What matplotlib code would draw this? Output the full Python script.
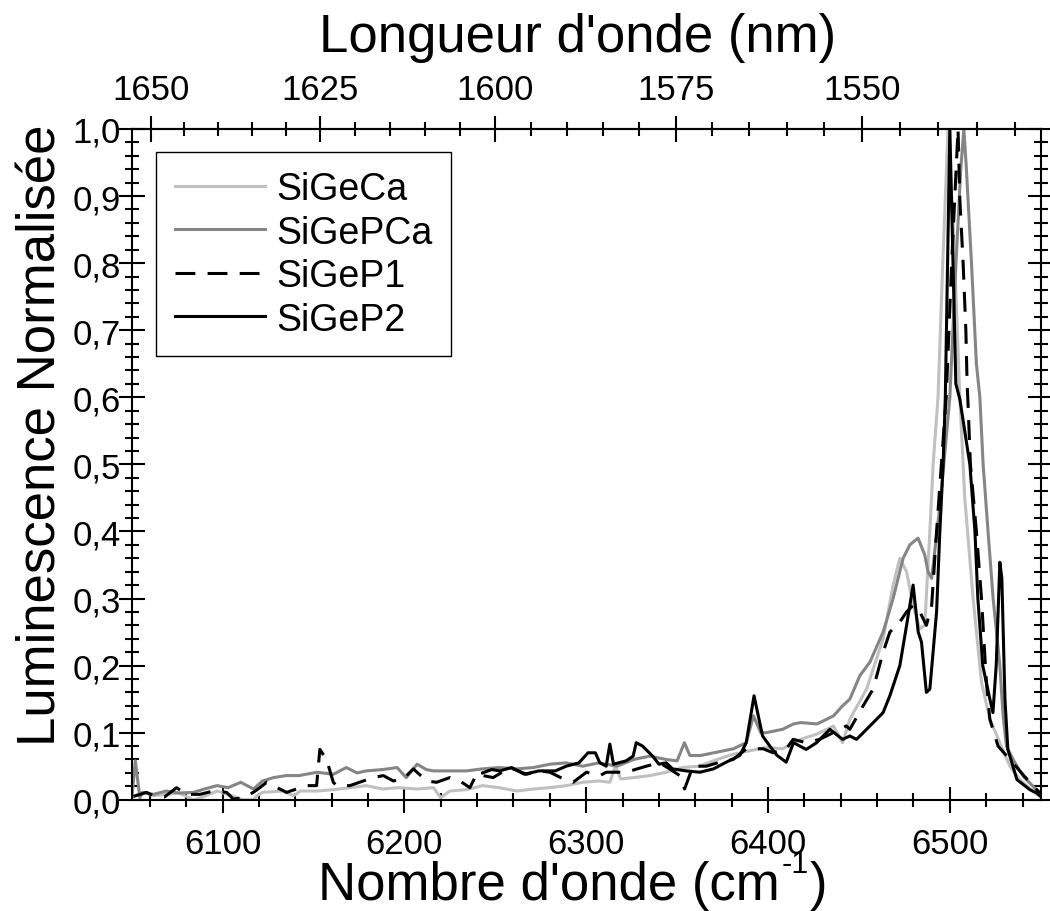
import numpy as np
import matplotlib
matplotlib.use('Agg')
import matplotlib.pyplot as plt
from matplotlib.ticker import MultipleLocator, FixedLocator, FuncFormatter

plt.rcParams['font.family'] = 'Liberation Sans'

# spectres normalises (nombre d'onde en cm-1, luminescence normalisee)
sigeca_k = [6050, 6051, 6056, 6062, 6069, 6076, 6084, 6088, 6097, 6105, 6111, 6117, 6119,
            6122, 6133, 6139, 6143, 6152, 6161, 6170, 6179, 6188, 6197, 6207, 6216, 6220,
            6225, 6234, 6243, 6252, 6262, 6271, 6280, 6289, 6298, 6307, 6313, 6316, 6319,
            6326, 6335, 6344, 6353, 6362, 6372, 6381, 6390, 6399, 6408, 6418, 6427, 6436,
            6441, 6445, 6454.2, 6463.3, 6468.8, 6472.5, 6476.2, 6479.8, 6483.5, 6486.2,
            6489, 6490.8, 6493.5, 6496.1, 6499, 6502, 6505.5, 6508.2, 6512.8, 6517.4,
            6522, 6527.5, 6533, 6538.5, 6546.7, 6550]
sigeca_v = [0.004, 0.005, 0.011, 0.006, 0.008, 0.010, 0.000, 0.003, 0.013, 0.006, 0.000,
            0.000, 0.006, 0.011, 0.013, 0.006, 0.013, 0.013, 0.015, 0.018, 0.021, 0.016,
            0.018, 0.016, 0.018, 0.003, 0.013, 0.015, 0.021, 0.018, 0.013, 0.016, 0.018,
            0.021, 0.026, 0.028, 0.026, 0.050, 0.031, 0.033, 0.036, 0.041, 0.048, 0.050,
            0.060, 0.068, 0.073, 0.078, 0.076, 0.090, 0.098, 0.110, 0.085, 0.120, 0.165,
            0.240, 0.320, 0.360, 0.340, 0.290, 0.255, 0.260, 0.400, 0.500, 0.600, 0.800,
            1.000, 0.850, 0.600, 0.450, 0.300, 0.175, 0.120, 0.085, 0.050, 0.030, 0.010,
            0.004]

sigepca_k = [6050, 6052, 6054.5, 6056, 6062, 6069, 6076, 6084, 6090, 6097, 6103, 6110,
             6117, 6122, 6128, 6135, 6142, 6152, 6161, 6168, 6174, 6179, 6188, 6196, 6201,
             6207, 6212, 6216, 6225, 6234, 6243, 6252, 6262, 6271, 6280, 6289, 6298, 6307,
             6317, 6326, 6335, 6344, 6350, 6354, 6357, 6363, 6372, 6381, 6388, 6392, 6396,
             6399, 6408, 6414, 6418, 6427, 6436, 6441, 6445, 6450.5, 6456, 6463.3, 6468.8,
             6474.3, 6478, 6482.5, 6486.2, 6488, 6490, 6495, 6500, 6503, 6506, 6507.7,
             6509, 6511.9, 6514.6, 6516.5, 6518.3, 6521, 6523.8, 6527.5, 6529.3, 6531.1,
             6534.8, 6540.3, 6547.6, 6550]
sigepca_v = [0.000, 0.058, 0.003, 0.011, 0.008, 0.013, 0.010, 0.011, 0.016, 0.021, 0.018,
             0.026, 0.016, 0.028, 0.033, 0.036, 0.036, 0.041, 0.038, 0.048, 0.040, 0.043,
             0.045, 0.048, 0.033, 0.053, 0.045, 0.043, 0.043, 0.043, 0.046, 0.048, 0.046,
             0.048, 0.053, 0.055, 0.050, 0.055, 0.050, 0.060, 0.065, 0.060, 0.058, 0.085,
             0.066, 0.066, 0.071, 0.076, 0.085, 0.125, 0.100, 0.100, 0.105, 0.113, 0.115,
             0.113, 0.125, 0.140, 0.150, 0.185, 0.205, 0.250, 0.300, 0.360, 0.380, 0.390,
             0.365, 0.340, 0.330, 0.450, 0.600, 0.780, 0.940, 1.000, 0.945, 0.800, 0.650,
             0.600, 0.500, 0.400, 0.300, 0.200, 0.125, 0.080, 0.060, 0.035, 0.015, 0.010]

sigep1_k = [6051, 6058.2, 6061.9, 6068, 6074.7, 6080.2, 6087.5, 6094.9, 6102.2, 6105.9,
            6111.4, 6116.9, 6120.5, 6124.2, 6131.5, 6135.2, 6146.2, 6151.7, 6153.5, 6157.2,
            6160.9, 6162.7, 6170, 6177.4, 6182.9, 6188.4, 6193.9, 6199.4, 6204.9, 6212.2,
            6217.7, 6225, 6230.5, 6236, 6239.7, 6248.8, 6258, 6267.1, 6274.5, 6280, 6286,
            6292.8, 6300.1, 6307.5, 6311, 6322, 6333, 6340.4, 6345.9, 6351.4, 6354.1,
            6358.7, 6366, 6373.4, 6380.8, 6388.1, 6397.3, 6402.8, 6410.1, 6413.8, 6421.1,
            6428.4, 6435.8, 6443.1, 6445, 6452.3, 6457.8, 6463.3, 6467, 6472.5, 6476.2,
            6479.8, 6483.5, 6487.1, 6490, 6492.7, 6497.2, 6498, 6501, 6504.5, 6505.5,
            6507.3, 6508.8, 6509.5, 6510, 6511.3, 6514.6, 6517.4, 6520.1, 6522, 6526.5,
            6533, 6541, 6549.5]
sigep1_v = [0.005, 0.011, 0.006, 0.004, 0.018, 0.008, 0.008, 0.013, 0.011, 0.001, 0.003,
            0.011, 0.018, 0.026, 0.016, 0.011, 0.021, 0.021, 0.075, 0.060, 0.026, 0.021,
            0.021, 0.028, 0.033, 0.036, 0.028, 0.031, 0.046, 0.028, 0.026, 0.033, 0.028,
            0.018, 0.038, 0.033, 0.048, 0.038, 0.043, 0.041, 0.033, 0.026, 0.041, 0.036,
            0.041, 0.041, 0.050, 0.055, 0.046, 0.036, 0.016, 0.050, 0.050, 0.056, 0.060,
            0.076, 0.076, 0.070, 0.076, 0.090, 0.085, 0.090, 0.100, 0.110, 0.105, 0.140,
            0.165, 0.220, 0.250, 0.265, 0.280, 0.290, 0.280, 0.260, 0.290, 0.400, 0.570,
            0.600, 0.800, 1.000, 0.895, 0.800, 0.700, 0.620, 0.590, 0.500, 0.400, 0.300,
            0.175, 0.120, 0.080, 0.060, 0.035, 0.010]

sigep2_k = [6243, 6248, 6252.5, 6259, 6266, 6274,
            6283, 6289, 6296, 6301, 6305, 6307.5, 6311, 6313, 6315, 6322, 6325.8, 6327.5,
            6331, 6336.5, 6340, 6344, 6347.5, 6355, 6362.5, 6370, 6377, 6384.5, 6388,
            6392.3, 6397, 6401, 6405, 6410, 6414, 6417.5, 6421, 6426.7, 6434, 6441, 6445,
            6448.7, 6454.2, 6459.7, 6463.3, 6467, 6472.5, 6476.2, 6479.8, 6482.6, 6484.4,
            6487.1, 6489, 6492.7, 6494.5, 6496.3, 6497.5, 6500, 6503.3, 6505.5, 6511,
            6513.8, 6515.4, 6518.1, 6522, 6523.7, 6525.5, 6527.5, 6528.6, 6530.3, 6531.9,
            6536.9, 6544, 6547.8, 6550]
sigep2_v = [0.040, 0.045,
            0.043, 0.048, 0.038, 0.043, 0.043, 0.050, 0.055, 0.070, 0.070, 0.055, 0.050,
            0.083, 0.053, 0.058, 0.065, 0.085, 0.080, 0.065, 0.053, 0.055, 0.046, 0.043,
            0.041, 0.046, 0.056, 0.066, 0.085, 0.155, 0.095, 0.080, 0.066, 0.056, 0.085,
            0.080, 0.075, 0.085, 0.105, 0.090, 0.095, 0.090, 0.105, 0.120, 0.130, 0.155,
            0.200, 0.260, 0.320, 0.250, 0.235, 0.160, 0.165, 0.280, 0.400, 0.500, 0.600,
            1.000, 0.620, 0.597, 0.500, 0.400, 0.300, 0.200, 0.150, 0.130, 0.200, 0.354,
            0.330, 0.150, 0.075, 0.030, 0.015, 0.010, 0.005]


def k_to_nm(k):
    k = np.asarray(k, dtype=float)
    with np.errstate(divide='ignore'):
        return 1e7 / k


def comma(v, pos):
    return f'{v:.1f}'.replace('.', ',')


W, H = 1050, 912
fig = plt.figure(figsize=(W / 100, H / 100), dpi=100)
ax = fig.add_axes([0.1254, 0.1220, 0.8658, 0.7355])

lw = 2.2
ax.plot(sigeca_k, sigeca_v, color='#c0c0c0', lw=lw, label='SiGeCa')
ax.plot(sigepca_k, sigepca_v, color='#858585', lw=lw, label='SiGePCa')
ax.plot(sigep1_k, sigep1_v, color='black', lw=lw, ls=(0, (6.5, 4)), label='SiGeP1')
ax.plot(sigep2_k, sigep2_v, color='black', lw=lw, label='SiGeP2')

ax.set_xlim(6050, 6550)
ax.set_ylim(0, 1.0)
ax.xaxis.set_major_locator(FixedLocator([6100, 6200, 6300, 6400, 6500]))
ax.xaxis.set_minor_locator(MultipleLocator(20))
ax.yaxis.set_major_locator(MultipleLocator(0.1))
ax.yaxis.set_minor_locator(MultipleLocator(0.02))
ax.yaxis.set_major_formatter(FuncFormatter(comma))

for s in ax.spines.values():
    s.set_linewidth(1.5)

ax.tick_params(which='both', direction='inout', width=1.5, right=True, top=False,
               labelsize=25)
ax.tick_params(which='major', length=18.7)
ax.tick_params(which='minor', length=10)
ax.tick_params(axis='x', which='both', pad=10)
ax.tick_params(axis='y', which='both', pad=-1.5)

# axe du haut en longueur d'onde
top = ax.secondary_xaxis('top', functions=(k_to_nm, k_to_nm))
top.xaxis.set_major_locator(FixedLocator([1650, 1625, 1600, 1575, 1550]))
top.xaxis.set_minor_locator(FixedLocator(np.arange(1530, 1656, 5)))
top.tick_params(which='both', direction='inout', width=1.5, labelsize=25, pad=7)
top.tick_params(which='major', length=18.7)
top.tick_params(which='minor', length=10)
top.spines['top'].set_linewidth(1.5)

# titre de l'axe du bas, en trois morceaux pour l'exposant
renderer = fig.canvas.get_renderer()
x0, base = 318, 900
t1 = fig.text(x0 / W, 1 - base / H, "Nombre d'onde (cm", ha='left', va='baseline',
              fontsize=38)
x1 = x0 + t1.get_window_extent(renderer).width + 2
t2 = fig.text(x1 / W, 1 - (base - 27) / H, "-1", ha='left', va='baseline', fontsize=22)
x2 = x1 + t2.get_window_extent(renderer).width + 1
fig.text(x2 / W, 1 - base / H, ")", ha='left', va='baseline', fontsize=38)

fig.text(578 / W, 1 - 52 / H, "Longueur d'onde (nm)",
         ha='center', va='baseline', fontsize=38)
fig.text(56 / W, 1 - 435 / H, "Luminescence Normalisée", rotation=90,
         rotation_mode='anchor', ha='center', va='baseline', fontsize=38)

leg = ax.legend(loc='upper left', bbox_to_anchor=(0.0267, 0.9652), borderaxespad=0,
                fontsize=27, frameon=True, fancybox=False, framealpha=1,
                edgecolor='black', handlelength=2.4, handletextpad=0.3,
                labelspacing=0.2, borderpad=0.5)
leg.get_frame().set_linewidth(1.0)

fig.savefig('out.png', dpi=100)
